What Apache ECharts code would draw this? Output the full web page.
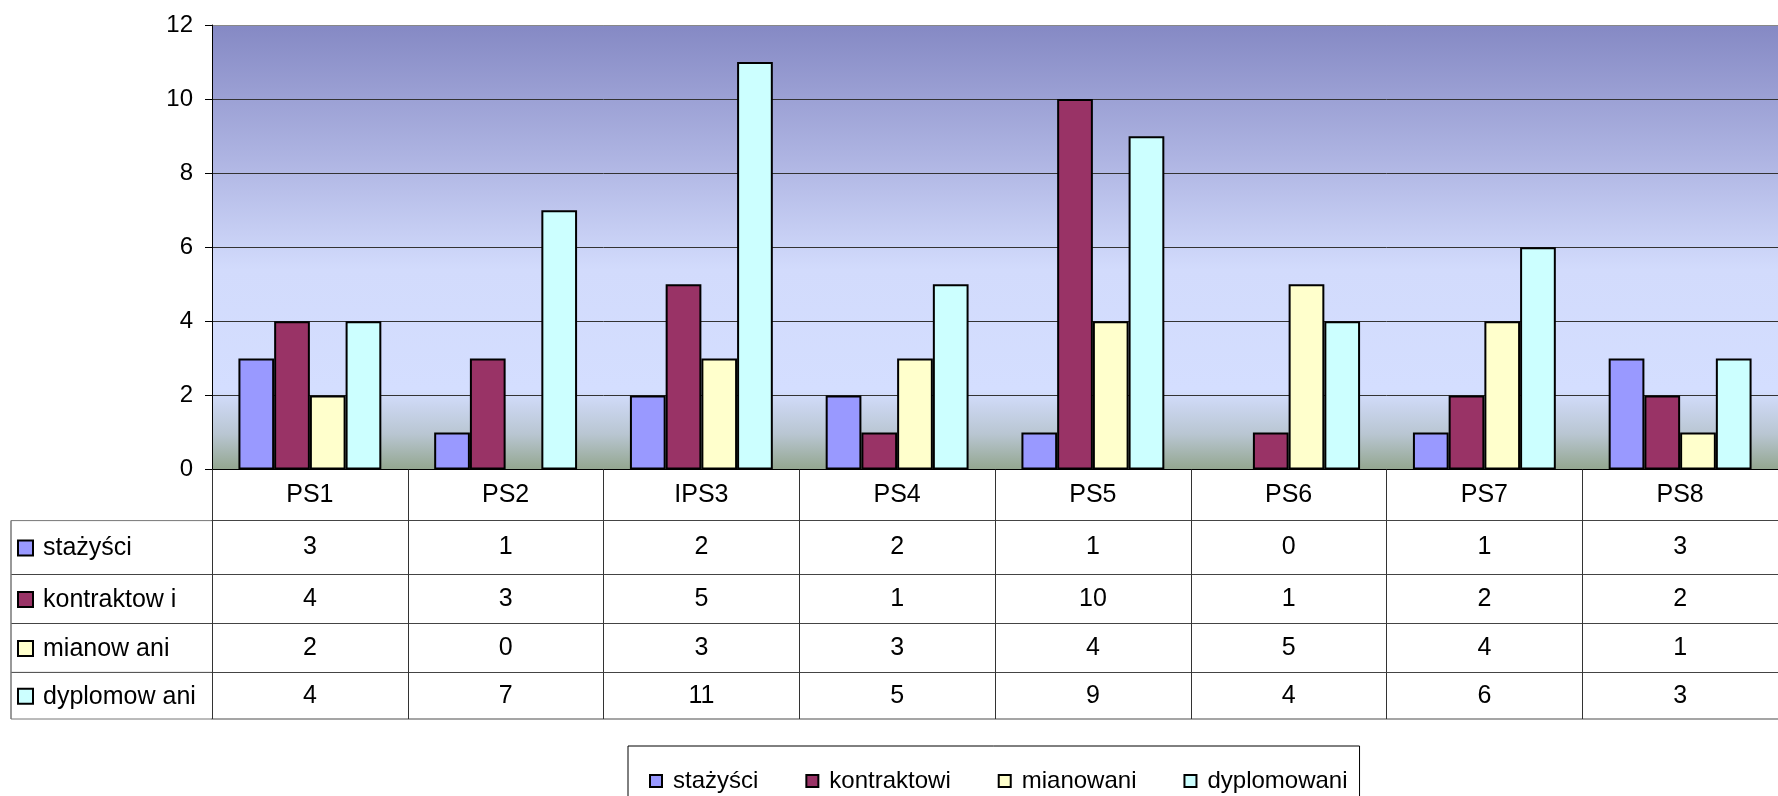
<!DOCTYPE html>
<html>
<head>
<meta charset="utf-8">
<script src="https://cdn.jsdelivr.net/npm/echarts@6/dist/echarts.min.js"></script>
<style>
  html, body { margin: 0; padding: 0; background: #fff; }
  #chart { width: 1778px; height: 796px; }
</style>
</head>
<body>
<div id="chart"></div>
<script>
// data
const categories = ['PS1', 'PS2', 'IPS3', 'PS4', 'PS5', 'PS6', 'PS7', 'PS8']
const seriesNames = ['stażyści', 'kontraktowi', 'mianowani', 'dyplomowani']
const tableLabels = ['stażyści', 'kontraktow i', 'mianow ani', 'dyplomow ani']
const stazysci = [3, 1, 2, 2, 1, 0, 1, 3]
const kontraktowi = [4, 3, 5, 1, 10, 1, 2, 2]
const mianowani = [2, 0, 3, 3, 4, 5, 4, 1]
const dyplomowani = [4, 7, 11, 5, 9, 4, 6, 3]
const yMin = 0
const yMax = 12
const yStep = 2

const values = [stazysci, kontraktowi, mianowani, dyplomowani]
const colors = ['#9999FF', '#993366', '#FFFFCC', '#CCFFFF']

// layout of the plot and the data table under it
const plotLeft = 212
const plotWidth = 1574 // the plot runs a little past the right edge of the picture
const plotTop = 25
const plotBottom = 469.5
const rowLines = [469.5, 520.6, 574.5, 623.5, 672.4, 719]
const tableLeft = 11
const font = 'Liberation Sans, Arial, sans-serif'
const tableFont = 25

const chart = echarts.init(document.getElementById('chart'))

// one category axis per table row: line on top, ticks as cell borders, labels as cell text
const xAxes = []
for (let i = 0; i < 5; i++) {
  const h = rowLines[i + 1] - rowLines[i]
  xAxes.push({
    type: 'category',
    data: categories,
    position: 'bottom',
    offset: rowLines[i] - plotBottom,
    axisLine: { show: true, lineStyle: { color: i === 0 ? '#000' : '#444', width: 1 } },
    axisTick: { show: true, length: h, lineStyle: { color: '#333', width: 1 } },
    axisLabel: {
      interval: 0,
      margin: h / 2,
      verticalAlign: 'middle',
      color: '#000',
      fontFamily: font,
      fontSize: tableFont,
      formatter: (v, idx) => (i === 0 ? v : String(values[i - 1][idx]))
    },
    splitLine: { show: false }
  })
}
// bottom border of the table
xAxes.push({
  type: 'category',
  data: categories,
  position: 'bottom',
  offset: rowLines[5] - plotBottom,
  axisLine: { show: true, lineStyle: { color: '#888', width: 1.5 } },
  axisTick: { show: false },
  axisLabel: { show: false }
})

// left column of the table: frame lines, key squares and row names
const graphic = []
for (let i = 1; i < rowLines.length; i++) {
  graphic.push({
    type: 'line',
    shape: { x1: tableLeft, y1: rowLines[i], x2: plotLeft, y2: rowLines[i] },
    style: { stroke: i === rowLines.length - 1 || i === 1 ? '#777' : '#444', lineWidth: 1 }
  })
}
graphic.push({
  type: 'line',
  shape: { x1: tableLeft, y1: rowLines[1], x2: tableLeft, y2: rowLines[5] },
  style: { stroke: '#777', lineWidth: 1.5 }
})
for (let i = 0; i < 4; i++) {
  const mid = (rowLines[i + 1] + rowLines[i + 2]) / 2
  graphic.push({
    type: 'rect',
    shape: { x: 18, y: mid - 7, width: 15, height: 15 },
    style: { fill: colors[i], stroke: '#000', lineWidth: 2 }
  })
  graphic.push({
    type: 'text',
    x: 43,
    y: mid + 1,
    style: {
      text: tableLabels[i],
      fill: '#000',
      font: tableFont + 'px ' + font,
      verticalAlign: 'middle'
    }
  })
}

const option = {
  animation: false,
  backgroundColor: '#fff',
  grid: {
    left: plotLeft,
    width: plotWidth,
    top: plotTop,
    bottom: 796 - plotBottom,
    show: true,
    borderWidth: 0,
    backgroundColor: new echarts.graphic.LinearGradient(0, 0, 0, 1, [
      { offset: 0, color: '#8589C4' },
      { offset: 0.3, color: '#AEB4E2' },
      { offset: 0.55, color: '#D2DBFC' },
      { offset: 0.82, color: '#D4DEFF' },
      { offset: 0.92, color: '#B9C6D2' },
      { offset: 1, color: '#93A68F' }
    ])
  },
  legend: {
    data: seriesNames,
    left: 628,
    top: 746,
    orient: 'horizontal',
    borderColor: '#000',
    borderWidth: 1,
    padding: [23, 12, 40, 21],
    itemWidth: 12,
    itemHeight: 12,
    itemGap: 47,
    icon: 'rect',
    textStyle: { color: '#000', fontFamily: font, fontSize: 24, padding: [0, 0, 0, 6] }
  },
  xAxis: xAxes,
  yAxis: {
    type: 'value',
    min: yMin,
    max: yMax,
    interval: yStep,
    axisLine: { show: true, lineStyle: { color: '#000', width: 1 } },
    axisTick: { show: true, length: 7, lineStyle: { color: '#000' } },
    axisLabel: { margin: 19, color: '#000', fontFamily: font, fontSize: 24 },
    splitLine: {
      show: true,
      lineStyle: { color: ['#333', '#333', '#333', '#333', '#333', '#333', '#888'], width: 1 }
    }
  },
  series: seriesNames.map((name, i) => ({
    name: name,
    type: 'bar',
    xAxisIndex: 0,
    // zero-height bars are not drawn in the original
    data: values[i].map(v => (v === 0 ? '-' : v)),
    barGap: '0%',
    barCategoryGap: '27%',
    itemStyle: { color: colors[i], borderColor: '#000', borderWidth: 2 }
  })),
  graphic: graphic
}

chart.setOption(option)
</script>
</body>
</html>
